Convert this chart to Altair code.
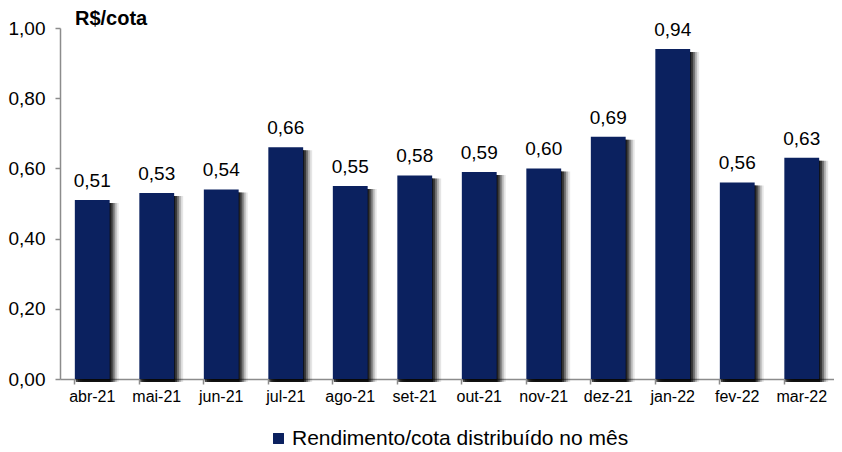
import altair as alt
import pandas as pd

meses = ["abr-21", "mai-21", "jun-21", "jul-21", "ago-21", "set-21",
         "out-21", "nov-21", "dez-21", "jan-22", "fev-22", "mar-22"]
valores = [0.51, 0.53, 0.54, 0.66, 0.55, 0.58, 0.59, 0.60, 0.69, 0.94, 0.56, 0.63]
serie = "Rendimento/cota distribuído no mês"
titulo = "R$/cota"

df = pd.DataFrame({"mes": meses, "valor": valores, "serie": serie})

FONT = "Liberation Sans"
NAVY = "#0b215f"

x = alt.X("mes:N", sort=meses, title=None,
          scale=alt.Scale(paddingInner=0.46, paddingOuter=0.23),
          axis=alt.Axis(labelAngle=0, labelFontSize=16, labelColor="#000", labelFont=FONT,
                        bandPosition=0, tickSize=5, tickColor="#8c8c8c", domainColor="#8c8c8c",
                        domainWidth=1.5, tickWidth=1.5, labelPadding=4))
y = alt.Y("valor:Q", title=None,
          scale=alt.Scale(domain=[0, 1]),
          axis=alt.Axis(values=[0, 0.2, 0.4, 0.6, 0.8, 1.0],
                        labelExpr="replace(format(datum.value, '.2f'), '.', ',')",
                        labelFontSize=19, labelColor="#000", labelFont=FONT, grid=False,
                        tickSize=5, tickColor="#8c8c8c", domainColor="#8c8c8c",
                        domainWidth=1.5, tickWidth=1.5, labelPadding=10))

base = alt.Chart(df)

shadows = [
    base.mark_bar(color="#000", opacity=op, xOffset=off, yOffset=3)
    .encode(x=x, y=y)
    for off, op in [(1, 0.7), (3, 0.5), (5, 0.35), (7, 0.2), (9, 0.1)]
]

bars = base.mark_bar().encode(
    x=x, y=y,
    color=alt.Color("serie:N", scale=alt.Scale(domain=[serie], range=[NAVY]),
                    legend=alt.Legend(title=None, orient="none", legendX=208, legendY=400,
                                      symbolType="square", symbolSize=120,
                                      symbolStrokeWidth=0, labelFontSize=21,
                                      labelFont=FONT, labelColor="#000", labelLimit=600,
                                      labelOffset=3))
)

labels = base.transform_calculate(
    rotulo="replace(format(datum.valor, '.2f'), '.', ',')"
).mark_text(baseline="bottom", dy=-9, fontSize=19, font=FONT, color="#000").encode(
    x=x, y=y, text="rotulo:N"
)

title_df = pd.DataFrame({"t": [titulo]})
title_mark = alt.Chart(title_df).mark_text(
    align="left", baseline="alphabetic", fontSize=20, font=FONT, fontWeight="bold", color="#000"
).encode(x=alt.value(15), y=alt.value(-3), text="t:N")

chart = alt.layer(*shadows, bars, labels, title_mark).properties(
    width=774, height=351,
    autosize=alt.AutoSizeParams(type="none"),
    padding={"left": 52, "top": 20, "right": 0, "bottom": 70},
).configure_view(stroke=None)

chart.save("out.html", embed_options={"renderer": "svg", "actions": False})
